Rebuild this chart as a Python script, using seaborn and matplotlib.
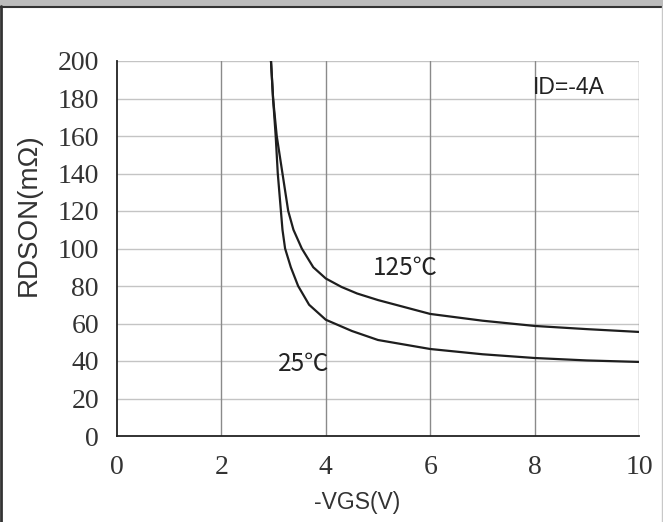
import matplotlib.pyplot as plt
import seaborn as sns
import pandas as pd
from matplotlib.patches import Rectangle
from matplotlib.lines import Line2D

# curve data
vgs_25 = [2.95, 2.99, 3.04, 3.08, 3.14, 3.17, 3.22, 3.33, 3.47, 3.68, 4.0, 4.5, 5.0, 6.0, 7.0, 8.0, 9.0, 10.0]
rds_25 = [200, 180, 160, 140, 120, 110, 100, 90, 80, 70, 62.0, 56.0, 51.2, 46.4, 43.6, 41.6, 40.3, 39.5]
vgs_125 = [2.95, 2.99, 3.06, 3.17, 3.28, 3.38, 3.54, 3.76, 4.0, 4.3, 4.6, 5.0, 6.0, 7.0, 8.0, 9.0, 10.0]
rds_125 = [200, 180, 160, 140, 120, 110, 100, 90, 84.0, 79.5, 76.0, 72.5, 65.1, 61.5, 58.7, 57.0, 55.5]

x_ticks = [0, 2, 4, 6, 8, 10]
y_ticks = [0, 20, 40, 60, 80, 100, 120, 140, 160, 180, 200]

df = pd.concat([
    pd.DataFrame({"vgs": vgs_25, "rds": rds_25, "temp": "25"}),
    pd.DataFrame({"vgs": vgs_125, "rds": rds_125, "temp": "125"}),
])

sns.set_style("white")
plt.rcParams["font.family"] = ["Liberation Sans", "Noto Sans CJK SC", "DejaVu Sans"]

fig = plt.figure(figsize=(6.63, 5.22), dpi=100)
ax = fig.add_axes([117 / 663, 1 - 436 / 522, 522 / 663, 375 / 522])

# grid first so curves sit on top
for y in y_ticks[1:]:
    ax.axhline(y, color="#c4c4c4", lw=1, zorder=0)
for x in x_ticks[1:]:
    ax.axvline(x, color="#8a8a8a", lw=1, zorder=0)

for t in ["25", "125"]:
    sns.lineplot(data=df[df["temp"] == t], x="vgs", y="rds", ax=ax,
                 color="#1e1e1e", lw=1.6, estimator=None, sort=False, zorder=3)

ax.set_xlim(0, 10)
ax.set_ylim(0, 200)
ax.set_xticks(x_ticks)
ax.set_yticks(y_ticks)
ax.set_xticklabels([str(v) for v in x_ticks], family="Liberation Serif", fontsize=20, color="#333333")
ax.set_yticklabels([str(v) for v in y_ticks], family="Liberation Serif", fontsize=20, color="#333333")
ax.tick_params(axis="both", direction="inout", length=14, width=1.2, color="#222222")
ax.tick_params(axis="y", pad=6)
ax.tick_params(axis="x", pad=7)

for s in ["top", "right"]:
    ax.spines[s].set_visible(False)
for s in ["left", "bottom"]:
    ax.spines[s].set_color("#222222")
    ax.spines[s].set_linewidth(1.3)

ax.set_xlabel("-VGS(V)", fontsize=16.5, color="#333333")
ax.set_ylabel("RDSON(mΩ)", fontsize=20, color="#333333")
ax.xaxis.set_label_coords(240 / 522, -55 / 375)
ax.yaxis.set_label_coords(-75 / 522, 221 / 375)

ax.text(7.97, 186, "ID=-4A", fontsize=16.5, color="#222222", va="center", ha="left")
ax.text(5.52, 89.6, "125℃", fontsize=17.5, color="#222222", va="center", ha="center",
        family=["Noto Sans CJK SC", "DejaVu Sans"])
ax.text(3.58, 38.4, "25℃", fontsize=17.5, color="#222222", va="center", ha="center",
        family=["Noto Sans CJK SC", "DejaVu Sans"])

# window frame around the screenshot
fig.add_artist(Rectangle((0, 1 - 6 / 522), 1, 6 / 522, transform=fig.transFigure,
                         color="#bcbcbc", zorder=0))
fig.add_artist(Line2D([0, 1], [1 - 6.5 / 522] * 2, transform=fig.transFigure, color="#333333", lw=1.5))
fig.add_artist(Line2D([1 / 663] * 2, [0, 1 - 6 / 522], transform=fig.transFigure, color="#333333", lw=2))
fig.add_artist(Line2D([661.5 / 663] * 2, [0, 1 - 6 / 522], transform=fig.transFigure, color="#c8c8c8", lw=1))

fig.savefig("out.png", dpi=100)
